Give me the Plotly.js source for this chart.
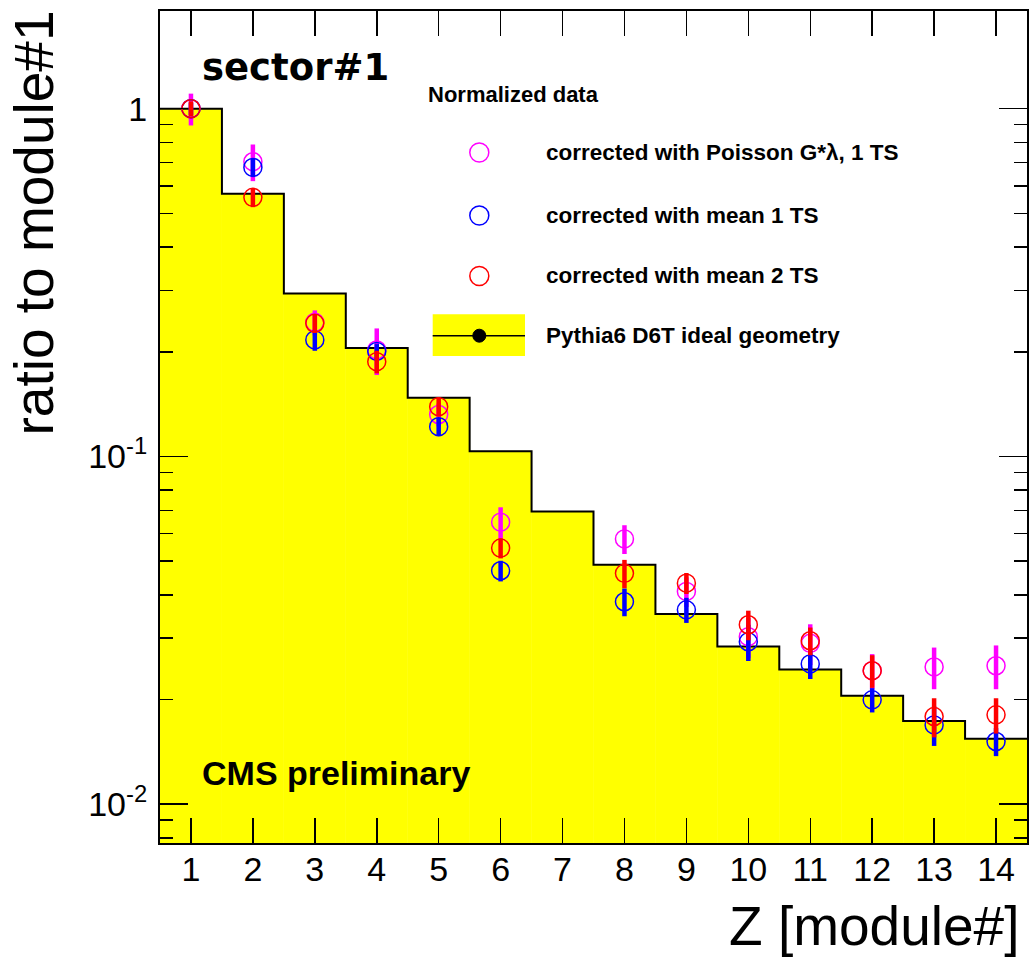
<!DOCTYPE html>
<html>
<head>
<meta charset="utf-8">
<script src="https://cdn.plot.ly/plotly-3.0.1.min.js"></script>
<style>
  html, body { margin: 0; padding: 0; background: #fff; }
  #chart { width: 1029px; height: 962px; }
</style>
</head>
<body>
<div id="chart"></div>
<script>
// Module numbers along Z and their tick labels
const modules = [1, 2, 3, 4, 5, 6, 7, 8, 9, 10, 11, 12, 13, 14];
const moduleLabels = ['1', '2', '3', '4', '5', '6', '7', '8', '9', '10', '11', '12', '13', '14'];

// Pythia6 D6T ideal geometry (histogram, ratio to module #1)
const pythiaD6T = [1.0, 0.569, 0.294, 0.205, 0.1476, 0.1035, 0.0694, 0.0488, 0.0352, 0.0284, 0.0244, 0.0205, 0.01735, 0.01542];

// Normalized data, corrected with Poisson G*lambda, 1 TS
const poissonGL    = [1.0, 0.704, 0.243, 0.2024, 0.132, 0.0647, null, 0.0579, 0.0409, 0.0303, 0.0290, 0.0242, 0.0248, 0.0250];
const poissonGLErr = [0.105, 0.085, 0.020, 0.031, 0.010, 0.0067, null, 0.0055, 0.0040, 0.0040, 0.0039, 0.0028, 0.0034, 0.0036];

// Normalized data, corrected with mean 1 TS
const mean1TS    = [1.0, 0.678, 0.2163, 0.2004, 0.1218, 0.0469, null, 0.0382, 0.0362, 0.0293, 0.0253, 0.01995, 0.0169, 0.01514];
const mean1TSErr = [0.04, 0.040, 0.015, 0.010, 0.0074, 0.0032, null, 0.0035, 0.0030, 0.0035, 0.0024, 0.0016, 0.0022, 0.0014];

// Normalized data, corrected with mean 2 TS
const mean2TS    = [1.0, 0.556, 0.2415, 0.1873, 0.139, 0.0545, null, 0.0461, 0.0432, 0.0328, 0.0295, 0.0242, 0.01786, 0.01806];
const mean2TSErr = [0.05, 0.035, 0.015, 0.014, 0.0088, 0.0036, null, 0.0043, 0.0030, 0.0032, 0.0027, 0.0026, 0.0023, 0.0021];

const legendLabels = [
  'corrected with Poisson G*λ, 1 TS',
  'corrected with mean 1 TS',
  'corrected with mean 2 TS',
  'Pythia6 D6T ideal geometry'
];
const seriesColors = ['#ff00ff', '#0000ff', '#ff0000'];

// Frame geometry (pixels)
const W = 1029, H = 962;
const M = { l: 160, r: 2, t: 11, b: 119 };
const plotW = W - M.l - M.r, plotH = H - M.t - M.b;
const px = x => (x - M.l) / plotW;          // page x -> paper x
const py = y => (H - M.b - y) / plotH;      // page y -> paper y

// Histogram step outline built from bin edges
const edges = modules.map(m => m - 0.5).concat([modules[modules.length - 1] + 0.5]);
const stepY = pythiaD6T.concat([pythiaD6T[pythiaD6T.length - 1]]);

const histFill = {
  type: 'bar', x: modules, y: pythiaD6T, width: 1,
  marker: { color: '#ffff00', line: { color: '#ffff00', width: 0.5 } },
  hoverinfo: 'skip', showlegend: false
};
const histLine = {
  type: 'scatter', mode: 'lines', x: edges, y: stepY,
  line: { shape: 'hv', color: '#000', width: 2 },
  hoverinfo: 'skip', showlegend: false
};

function points(values, errs, color) {
  return {
    type: 'scatter', mode: 'markers', x: modules, y: values,
    marker: { symbol: 'circle-open', size: 18, color: color, line: { color: color, width: 1.5 } },
    error_y: { type: 'data', array: errs, visible: true, color: color, thickness: 4.5, width: 0 },
    showlegend: false
  };
}

const traces = [
  histFill, histLine,
  points(poissonGL, poissonGLErr, seriesColors[0]),
  points(mean1TS, mean1TSErr, seriesColors[1]),
  points(mean2TS, mean2TSErr, seriesColors[2])
];

const minorVals = [];
[0.001, 0.01, 0.1].forEach(d => { for (let k = 2; k <= 9; k++) minorVals.push(+(k * d).toPrecision(3)); });

const FONT = 'Liberation Sans, Arial, Helvetica, sans-serif';

const annotations = [
  { text: 'ratio to module#1', x: px(33), y: py(223.5), textangle: -90,
    font: { family: FONT, size: 55, color: '#000' } },
  { text: 'Z [module#]', x: px(1021), y: py(926), xanchor: 'right',
    font: { family: FONT, size: 55, color: '#000' } },
  { text: '<b>sector#1</b>', x: px(199.5), y: py(67.2), xanchor: 'left',
    font: { family: 'DejaVu Sans, sans-serif', size: 37, color: '#000' } },
  { text: '<b>CMS preliminary</b>', x: px(200), y: py(772.5), xanchor: 'left',
    font: { family: FONT, size: 34, color: '#000' } },
  { text: '<b>Normalized data</b>', x: px(425.7), y: py(94.1), xanchor: 'left',
    font: { family: FONT, size: 22, color: '#000' } }
].map(a => Object.assign({ xref: 'paper', yref: 'paper', showarrow: false, yanchor: 'middle', xanchor: 'center' }, a));

const legendRows = [152.5, 215.5, 276, 335.7];
legendLabels.forEach((t, i) => {
  annotations.push({
    text: '<b>' + t + '</b>', xref: 'paper', yref: 'paper', x: px(544), y: py(legendRows[i] - 0.5),
    xanchor: 'left', yanchor: 'middle', showarrow: false,
    font: { family: FONT, size: 22.5, color: '#000' }
  });
});

const shapes = [];
// open circle markers for the three data series
seriesColors.forEach((c, i) => {
  shapes.push({
    type: 'circle', xref: 'paper', yref: 'paper',
    xsizemode: 'pixel', ysizemode: 'pixel',
    xanchor: px(479.3), yanchor: py(legendRows[i]),
    x0: -9.5, x1: 9.5, y0: -9.5, y1: 9.5,
    line: { color: c, width: 1.5 }, fillcolor: 'rgba(0,0,0,0)'
  });
});
// histogram entry: yellow box, black line and dot
shapes.push({
  type: 'rect', xref: 'paper', yref: 'paper',
  x0: px(432.7), x1: px(525), y0: py(356), y1: py(314.3),
  fillcolor: '#ffff00', line: { width: 0 }
});
shapes.push({
  type: 'line', xref: 'paper', yref: 'paper',
  x0: px(432.7), x1: px(525), y0: py(legendRows[3]), y1: py(legendRows[3]),
  line: { color: '#000', width: 1.5 }
});
shapes.push({
  type: 'circle', xref: 'paper', yref: 'paper',
  xsizemode: 'pixel', ysizemode: 'pixel',
  xanchor: px(479.3), yanchor: py(legendRows[3]),
  x0: -6.5, x1: 6.5, y0: -6.5, y1: 6.5,
  fillcolor: '#000', line: { color: '#000', width: 1 }
});

const layout = {
  width: W, height: H,
  margin: M,
  paper_bgcolor: '#fff', plot_bgcolor: '#fff',
  showlegend: false,
  bargap: 0,
  font: { family: FONT, color: '#000' },
  xaxis: {
    range: [0.5, 14.5], tickmode: 'array', tickvals: modules, ticktext: moduleLabels,
    ticks: 'inside', ticklen: 25, tickwidth: 1.5, tickcolor: '#000',
    showline: true, linewidth: 2, linecolor: '#000', mirror: 'ticks',
    showgrid: false, zeroline: false,
    tickfont: { family: FONT, size: 34, color: '#000' },
    ticklabelstandoff: -5
  },
  yaxis: {
    type: 'log', range: [Math.log10(0.00773), Math.log10(1.91)],
    tickmode: 'array', tickvals: [0.01, 0.1, 1],
    ticktext: ['10<sup>-2</sup>', '10<sup>-1</sup>', '1'],
    ticks: 'inside', ticklen: 28, tickwidth: 1.5, tickcolor: '#000',
    minor: { tickmode: 'array', tickvals: minorVals, ticks: 'inside', ticklen: 13, tickwidth: 1.5, tickcolor: '#000', showgrid: false },
    showline: true, linewidth: 2, linecolor: '#000', mirror: 'ticks',
    showgrid: false, zeroline: false,
    tickfont: { family: FONT, size: 34, color: '#000' },
    ticklabelstandoff: 4
  },
  annotations: annotations,
  shapes: shapes
};

Plotly.newPlot('chart', traces, layout, { displayModeBar: false, staticPlot: true });
</script>
</body>
</html>
